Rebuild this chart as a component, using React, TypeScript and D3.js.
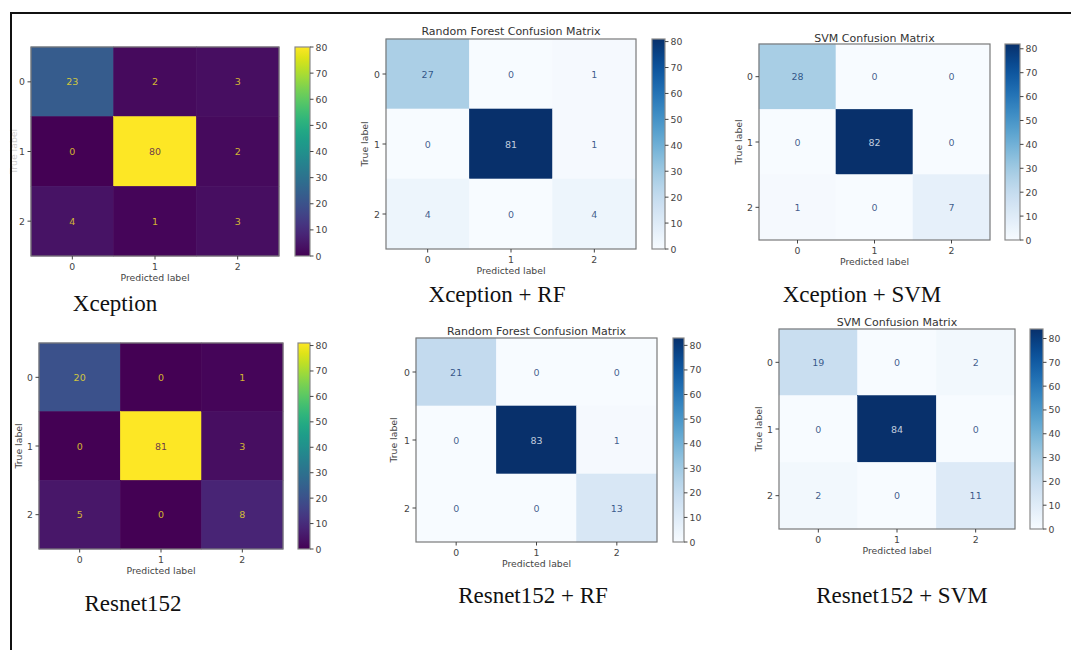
import * as d3 from "d3"

// confusion matrices (rows = true label, cols = predicted)
const classLabels = ["0", "1", "2"]
const xceptionCM = [[23, 2, 3], [0, 80, 2], [4, 1, 3]]
const xceptionRfCM = [[27, 0, 1], [0, 81, 1], [4, 0, 4]]
const xceptionSvmCM = [[28, 0, 0], [0, 82, 0], [1, 0, 7]]
const resnetCM = [[20, 0, 1], [0, 81, 3], [5, 0, 8]]
const resnetRfCM = [[21, 0, 0], [0, 83, 1], [0, 0, 13]]
const resnetSvmCM = [[19, 0, 2], [0, 84, 0], [2, 0, 11]]
const colorbarTicks = [0, 10, 20, 30, 40, 50, 60, 70, 80]
const captions = ["Xception", "Xception + RF", "Xception + SVM", "Resnet152", "Resnet152 + RF", "Resnet152 + SVM"]
const titles = [null, "Random Forest Confusion Matrix", "SVM Confusion Matrix", null, "Random Forest Confusion Matrix", "SVM Confusion Matrix"]

const W = 1071
const H = 650
const mplFont = "DejaVu Sans, sans-serif"
const serif = "Liberation Serif, Times New Roman, serif"

type Layout = {
  hm: [number, number, number, number]
  cb: [number, number]
  trueX: number
  trueOpacity: number
  titleY: number
  capX: number
  capY: number
}

const layouts: Layout[] = [
  { hm: [31, 47, 279, 256], cb: [295, 310], trueX: 13, trueOpacity: 0.25, titleY: 0, capX: 115, capY: 311 },
  { hm: [386, 39, 636, 249], cb: [652, 665], trueX: 364, trueOpacity: 1, titleY: 35, capX: 497, capY: 302 },
  { hm: [759, 44, 990, 240], cb: [1005, 1020], trueX: 738, trueOpacity: 1, titleY: 42, capX: 862, capY: 302 },
  { hm: [39, 343, 283, 549], cb: [298, 310], trueX: 18, trueOpacity: 1, titleY: 0, capX: 133, capY: 611 },
  { hm: [416, 338, 657, 542], cb: [673, 684], trueX: 393, trueOpacity: 1, titleY: 335, capX: 533, capY: 603 },
  { hm: [779, 329, 1015, 529], cb: [1030, 1043], trueX: 758, trueOpacity: 1, titleY: 326, capX: 902, capY: 603 },
]

const matrices = [xceptionCM, xceptionRfCM, xceptionSvmCM, resnetCM, resnetRfCM, resnetSvmCM]
const cmaps = [d3.interpolateViridis, d3.interpolateBlues, d3.interpolateBlues, d3.interpolateViridis, d3.interpolateBlues, d3.interpolateBlues]

function Matrix({ idx }: { idx: number }) {
  const m = matrices[idx]
  const L = layouts[idx]
  const interp = cmaps[idx]
  const [x0, y0, x1, y1] = L.hm
  const flat = m.flat()
  const vmin = d3.min(flat) as number
  const vmax = d3.max(flat) as number
  const color = d3.scaleSequential(interp).domain([vmin, vmax])
  const x = d3.scaleBand().domain(classLabels).range([x0, x1])
  const y = d3.scaleBand().domain(classLabels).range([y0, y1])
  const cbY = d3.scaleLinear().domain([vmin, vmax]).range([y1, y0])
  const thresh = (vmin + vmax) / 2
  const gid = `cb-grad-${idx}`
  const stops = d3.range(0, 1.0001, 0.05)
  const [cbL, cbR] = L.cb
  const tickCol = "#444"

  return (
    <g>
      <defs>
        <linearGradient id={gid} x1="0" y1="1" x2="0" y2="0">
          {stops.map((t) => (
            <stop key={t} offset={t} stopColor={interp(t)} />
          ))}
        </linearGradient>
      </defs>
      {L.titleY > 0 && (
        <text x={(x0 + x1) / 2} y={L.titleY} textAnchor="middle" fontFamily={mplFont} fontSize={11} fill="#333">
          {titles[idx]}
        </text>
      )}
      {m.map((row, r) =>
        row.map((v, c) => (
          <rect
            key={`${r}-${c}`}
            x={x(classLabels[c])}
            y={y(classLabels[r])}
            width={x.bandwidth()}
            height={y.bandwidth()}
            fill={color(v)}
            stroke={color(v)}
            strokeWidth={0.6}
          />
        ))
      )}
      {m.map((row, r) =>
        row.map((v, c) => (
          <text
            key={`t${r}-${c}`}
            x={(x(classLabels[c]) as number) + x.bandwidth() / 2}
            y={(y(classLabels[r]) as number) + y.bandwidth() / 2}
            textAnchor="middle"
            dominantBaseline="central"
            fontFamily={mplFont}
            fontSize={9.5}
            fill={v > thresh ? interp(0) : interp(1)}
            fillOpacity={0.78}
          >
            {v}
          </text>
        ))
      )}
      <rect x={x0} y={y0} width={x1 - x0} height={y1 - y0} fill="none" stroke="#7a7a7a" strokeWidth={1.2} />
      {classLabels.map((lab) => {
        const cy = (y(lab) as number) + y.bandwidth() / 2
        const cx = (x(lab) as number) + x.bandwidth() / 2
        return (
          <g key={lab}>
            <line x1={x0 - 3.5} x2={x0} y1={cy} y2={cy} stroke={tickCol} />
            <text x={x0 - 6} y={cy} textAnchor="end" dominantBaseline="central" fontFamily={mplFont} fontSize={9.3} fill={tickCol}>
              {lab}
            </text>
            <line x1={cx} x2={cx} y1={y1} y2={y1 + 3.5} stroke={tickCol} />
            <text x={cx} y={y1 + 14} textAnchor="middle" fontFamily={mplFont} fontSize={9.3} fill={tickCol}>
              {lab}
            </text>
          </g>
        )
      })}
      <text x={(x0 + x1) / 2} y={y1 + 25} textAnchor="middle" fontFamily={mplFont} fontSize={9.3} fill={tickCol}>
        Predicted label
      </text>
      <text
        transform={`translate(${L.trueX},${(y0 + y1) / 2}) rotate(-90)`}
        textAnchor="middle"
        dominantBaseline="central"
        fontFamily={mplFont}
        fontSize={9.3}
        fill={tickCol}
        opacity={L.trueOpacity}
      >
        True label
      </text>
      <rect x={cbL} y={y0} width={cbR - cbL} height={y1 - y0} fill={`url(#${gid})`} stroke="#8a8a8a" strokeWidth={1.2} />
      {colorbarTicks.filter((t) => t <= vmax).map((t) => (
        <g key={t}>
          <line x1={cbR} x2={cbR + 3.5} y1={cbY(t)} y2={cbY(t)} stroke={tickCol} />
          <text x={cbR + 5.5} y={cbY(t)} dominantBaseline="central" fontFamily={mplFont} fontSize={9.3} fill={tickCol}>
            {t}
          </text>
        </g>
      ))}
      <text x={L.capX} y={L.capY} textAnchor="middle" fontFamily={serif} fontSize={23} fill="#111">
        {captions[idx]}
      </text>
    </g>
  )
}

export default function App() {
  return (
    <div style={{ position: "absolute", left: 0, top: 0 }}>
      <svg width={W} height={H} style={{ display: "block", background: "#fff" }}>
        <rect x={0} y={0} width={W} height={H} fill="#fff" />
        {matrices.map((_, i) => (
          <Matrix key={i} idx={i} />
        ))}
        <line x1={10} x2={W} y1={13} y2={13} stroke="#111" strokeWidth={2} />
        <line x1={11} x2={11} y1={12} y2={H} stroke="#111" strokeWidth={2} />
      </svg>
    </div>
  )
}
